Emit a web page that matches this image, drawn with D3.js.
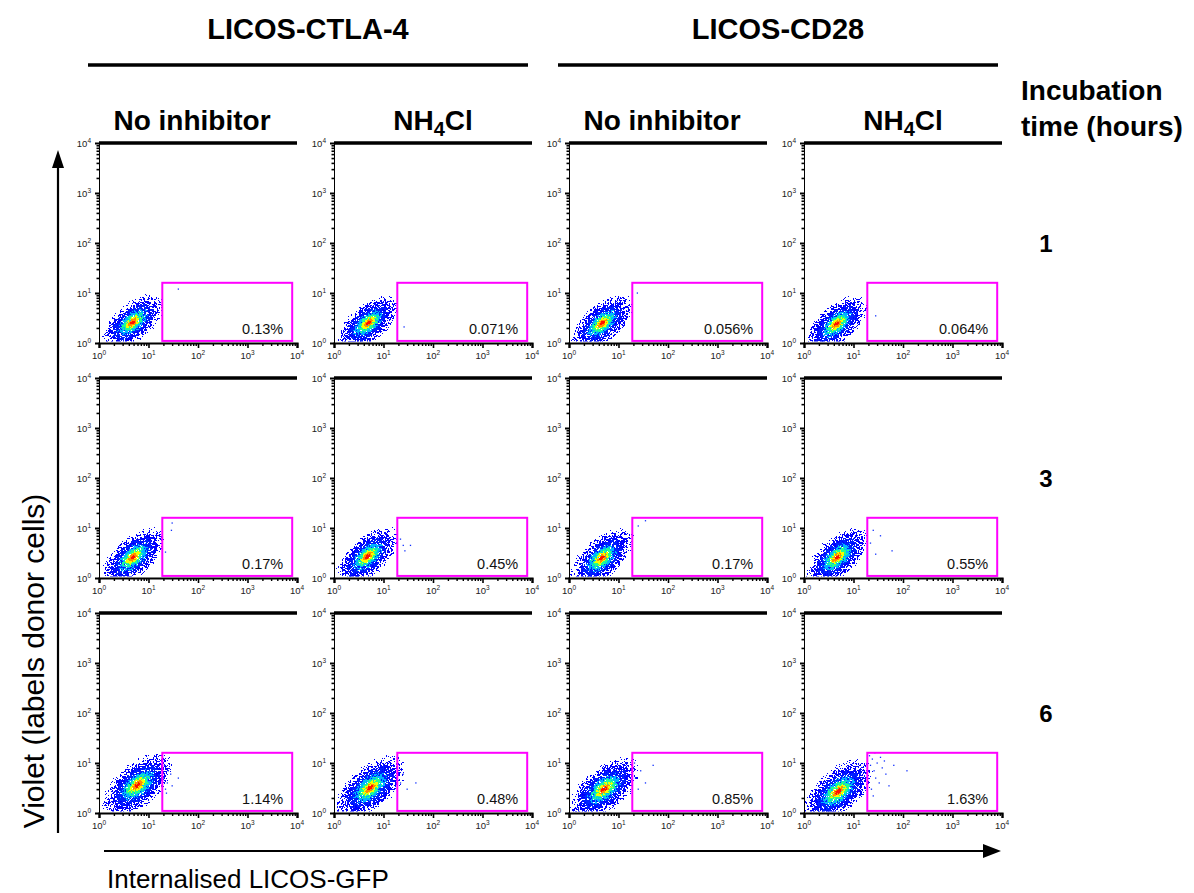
<!DOCTYPE html>
<html lang="en">
<head>
<meta charset="UTF-8">
<title>Internalised LICOS-GFP</title>
<style>
  body { margin: 0; background: #fff; }
  text { font-family: "Liberation Sans", Arial, sans-serif; }
</style>
</head>
<body>
<svg id="fig" width="1194" height="893"></svg>
<script src="https://d3js.org/d3.v7.min.js"></script>
<script>
// ---- data ----
const groups = ["LICOS-CTLA-4", "LICOS-CD28"];
const conditions = ["No inhibitor", "NH4Cl", "No inhibitor", "NH4Cl"];
const times = ["1", "3", "6"];
const decades = [1, 10, 100, 1000, 10000];
const gateX = [19, 8000];
const gateY = [1.1, 16];
const gatePct = [
  ["0.13%", "0.071%", "0.056%", "0.064%"],
  ["0.17%", "0.45%", "0.17%", "0.55%"],
  ["1.14%", "0.48%", "0.85%", "1.63%"]
];
// centre of the main population (GFP, Violet)
const cloudX = [[4.8, 4.9, 4.7, 4.6], [4.9, 4.8, 4.6, 4.7], [6.0, 5.4, 5.1, 4.9]];
const cloudY = [[2.6, 2.5, 2.5, 2.4], [2.6, 2.7, 2.5, 2.6], [3.6, 3.2, 3.0, 2.7]];
// spread of the population in decades and its tilt
const cloudMajor = [0.68, 0.70, 0.78];
const cloudMinor = [0.34, 0.35, 0.39];
const cloudTilt = [40, 42, 40];
// single events seen inside / next to the gate
const gateEvents = [
  [[[40, 12]], [[26, 2.1]], [[24, 10]], [[28, 3.5]]],
  [[[30, 12.6], [29, 9], [22, 3.3]],
   [[25, 4.5], [27, 3.5], [35, 4.5], [22, 6]],
   [[25, 11], [35, 14]],
   [[22, 5], [28, 3], [35, 7], [60, 3.5], [25, 9]]],
  [[[20, 5], [22, 3], [25, 7], [24, 4], [30, 3.5], [21, 9], [28, 6], [40, 5], [23, 2.5]],
   [[22, 4], [25, 6], [30, 3], [45, 4]],
   [[22, 5], [25, 3], [28, 7], [35, 4], [21, 10], [50, 9]],
   [[21, 14], [24, 12], [22, 9], [26, 7], [30, 10], [28, 5], [33, 4], [23, 3], [38, 8],
    [45, 6], [52, 3.5], [65, 9], [25, 2.2], [120, 7], [35, 13], [42, 11], [27, 16]]]
];

// ---- layout ----
const svg = d3.select("#fig");
const W = 198, H = 200;
const colX = [99, 334, 569, 804];
const rowY = [143, 378, 613];

const x = d3.scaleLog().domain([1, 10000]).range([0, W]);
const y = d3.scaleLog().domain([1, 10000]).range([H, 0]);
const pxX = W / 4, pxY = H / 4;

// density colours, outside in: colour, relative size, peak opacity
const layers = [
  { c: "#0000ff", s: 1.40, o: 0.8 },
  { c: "#0020ff", s: 0.95, o: 0.95 },
  { c: "#00b4ff", s: 0.66, o: 1 },
  { c: "#20ff90", s: 0.48, o: 1 },
  { c: "#f4ff00", s: 0.34, o: 1 },
  { c: "#ff8c00", s: 0.22, o: 1 },
  { c: "#ff1000", s: 0.12, o: 1 }
];

const defs = svg.append("defs");
layers.forEach((l, i) => {
  const g = defs.append("radialGradient").attr("id", "grad" + i);
  g.append("stop").attr("offset", "0%").attr("stop-color", l.c).attr("stop-opacity", l.o);
  g.append("stop").attr("offset", "45%").attr("stop-color", l.c).attr("stop-opacity", l.o * 0.85);
  g.append("stop").attr("offset", "100%").attr("stop-color", l.c).attr("stop-opacity", 0);
});

function speckleFilter(id, seed) {
  const f = defs.append("filter").attr("id", id)
    .attr("x", "-10%").attr("y", "-10%").attr("width", "120%").attr("height", "120%")
    .attr("color-interpolation-filters", "sRGB");
  f.append("feTurbulence").attr("type", "fractalNoise").attr("baseFrequency", 0.8)
    .attr("numOctaves", 2).attr("seed", seed).attr("result", "noise");
  f.append("feColorMatrix").attr("in", "noise").attr("type", "matrix")
    .attr("values", "0 0 0 0 0  0 0 0 0 0  0 0 0 0 0  3.5 0 0 0 -1.25").attr("result", "na");
  f.append("feComposite").attr("in", "SourceAlpha").attr("in2", "na").attr("operator", "arithmetic")
    .attr("k1", 0).attr("k2", 1).attr("k3", 1).attr("k4", -1).attr("result", "mask");
  f.append("feComposite").attr("in", "SourceGraphic").attr("in2", "mask").attr("operator", "in").attr("result", "cut");
  f.append("feComponentTransfer").attr("in", "cut")
    .append("feFuncA").attr("type", "discrete")
    .attr("tableValues", "0 1 1 1 1 1 1 1 1 1 1 1 1 1 1 1 1 1 1 1");
}

function supLabel(sel, exp) {
  sel.append("tspan").text("10");
  sel.append("tspan").attr("font-size", 6.5).attr("dy", -4).text(exp);
}

const minors = [];
decades.slice(0, 4).forEach(d => { for (let k = 2; k < 10; k++) minors.push(d * k); });

times.forEach((t, r) => {
  conditions.forEach((cond, c) => {
    const pid = "p" + r + "_" + c;
    const p = svg.append("g").attr("transform", `translate(${colX[c]},${rowY[r]})`);

    defs.append("clipPath").attr("id", "clip" + pid)
      .append("rect").attr("x", 1).attr("y", 0).attr("width", W).attr("height", H - 1.5);
    speckleFilter("f" + pid, 3 + r * 4 + c);

    // main population
    const cx = x(cloudX[r][c]), cy = y(cloudY[r][c]);
    const cloud = p.append("g").attr("clip-path", `url(#clip${pid})`);
    cloud.selectAll("ellipse").data(layers).join("ellipse")
      .attr("cx", cx).attr("cy", cy)
      .attr("rx", l => cloudMajor[r] * pxX * l.s)
      .attr("ry", l => cloudMinor[r] * pxY * l.s)
      .attr("transform", `rotate(${-cloudTilt[r]},${cx},${cy})`)
      .attr("fill", (l, i) => `url(#grad${i})`)
      .attr("filter", `url(#f${pid})`);

    cloud.selectAll("rect.ev").data(gateEvents[r][c]).join("rect").attr("class", "ev")
      .attr("x", d => x(d[0]) - 0.6).attr("y", d => y(d[1]) - 0.6)
      .attr("width", 1.3).attr("height", 1.3).attr("fill", "#1030ff");

    // gate
    p.append("rect")
      .attr("x", x(gateX[0])).attr("y", y(gateY[1]))
      .attr("width", x(gateX[1]) - x(gateX[0])).attr("height", y(gateY[0]) - y(gateY[1]))
      .attr("fill", "none").attr("stroke", "#ff00ff").attr("stroke-width", 2);
    p.append("text")
      .attr("x", x(gateX[1]) - 9).attr("y", y(gateY[0]) - 7)
      .attr("text-anchor", "end").attr("font-size", 14.5).attr("fill", "#111")
      .text(gatePct[r][c]);

    // axes
    const xa = p.append("g").attr("transform", `translate(0,${H})`)
      .call(d3.axisBottom(x).tickValues(decades).tickFormat("").tickSizeOuter(0).tickSize(5));
    xa.select(".domain").attr("stroke-width", 2.2);
    xa.selectAll(".tick line").attr("stroke-width", 1.6);
    const xm = p.append("g").attr("transform", `translate(0,${H})`)
      .call(d3.axisBottom(x).tickValues(minors).tickFormat("").tickSizeOuter(0).tickSize(3));
    xm.select(".domain").remove();
    xm.selectAll(".tick line").attr("stroke-width", 1.4);

    const ya = p.append("g")
      .call(d3.axisLeft(y).tickValues(decades).tickFormat("").tickSizeOuter(0).tickSize(4));
    ya.select(".domain").attr("stroke-width", 1);
    ya.selectAll(".tick line").attr("stroke-width", 2);
    const ym = p.append("g")
      .call(d3.axisLeft(y).tickValues(minors).tickFormat("").tickSizeOuter(0).tickSize(2.5));
    ym.select(".domain").remove();
    ym.selectAll(".tick line").attr("stroke-width", 1.6);

    p.append("line").attr("x1", 0).attr("x2", W).attr("y1", 0).attr("y2", 0)
      .attr("stroke", "#000").attr("stroke-width", 3.5);

    decades.forEach((d, i) => {
      p.append("text").attr("x", x(d)).attr("y", H + 16)
        .attr("text-anchor", "middle").attr("font-size", 9.5).attr("fill", "#222")
        .call(supLabel, i);
      p.append("text").attr("x", -8).attr("y", y(d) + 3.5)
        .attr("text-anchor", "end").attr("font-size", 9.5).attr("fill", "#222")
        .call(supLabel, i);
    });
  });
});

// column headers
conditions.forEach((cond, c) => {
  const t = svg.append("text").attr("x", colX[c] + W / 2 - (cond === "NH4Cl" ? 0 : 6)).attr("y", 130)
    .attr("text-anchor", "middle").attr("font-size", 28).attr("font-weight", "bold");
  if (cond === "NH4Cl") {
    t.append("tspan").text("NH");
    t.append("tspan").attr("font-size", 20).attr("dy", 6).text("4");
    t.append("tspan").attr("dy", -6).text("Cl");
  } else {
    t.text(cond);
  }
});

groups.forEach((g, i) => {
  const x0 = colX[2 * i] - 11, x1 = colX[2 * i + 1] + W - 4;
  svg.append("line").attr("x1", x0).attr("x2", x1).attr("y1", 65).attr("y2", 65)
    .attr("stroke", "#000").attr("stroke-width", 3.5);
  svg.append("text").attr("x", (x0 + x1) / 2).attr("y", 39)
    .attr("text-anchor", "middle").attr("font-size", 29).attr("font-weight", "bold").text(g);
});

svg.append("text").attr("x", 1021).attr("y", 100).attr("font-size", 28).attr("font-weight", "bold").text("Incubation");
svg.append("text").attr("x", 1021).attr("y", 136).attr("font-size", 28).attr("font-weight", "bold").text("time (hours)");
times.forEach((t, r) => {
  svg.append("text").attr("x", 1046).attr("y", rowY[r] + 109)
    .attr("text-anchor", "middle").attr("font-size", 24).attr("font-weight", "bold").text(t);
});

// axis arrows and titles
svg.append("line").attr("x1", 58).attr("x2", 58).attr("y1", 833).attr("y2", 165)
  .attr("stroke", "#000").attr("stroke-width", 2.2);
svg.append("path").attr("d", "M58,150 L52,168 L64,168 Z").attr("fill", "#000");
svg.append("line").attr("x1", 104).attr("x2", 985).attr("y1", 851).attr("y2", 851)
  .attr("stroke", "#000").attr("stroke-width", 2.2);
svg.append("path").attr("d", "M1001,851 L983,844 L983,858 Z").attr("fill", "#000");

svg.append("text").attr("transform", "translate(44,661) rotate(-90)")
  .attr("text-anchor", "middle").attr("font-size", 30).text("Violet (labels donor cells)");
svg.append("text").attr("x", 107).attr("y", 888).attr("font-size", 26).text("Internalised LICOS-GFP");
</script>
</body>
</html>
